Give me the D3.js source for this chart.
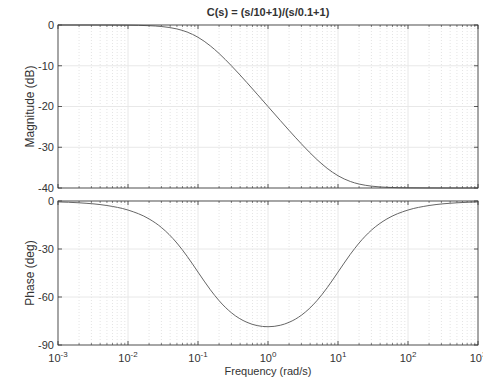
<!DOCTYPE html>
<html>
<head>
<meta charset="utf-8">
<script src="https://cdn.jsdelivr.net/npm/d3@7"></script>
<style>
  body { margin: 0; background: #fff; }
  text { font-family: "Liberation Sans", Arial, sans-serif; fill: #333; }
</style>
</head>
<body>
<svg id="bode"></svg>
<script>
// Values
const freq = [0.001, 0.002, 0.005, 0.01, 0.02, 0.03, 0.05, 0.07, 0.1, 0.15, 0.2, 0.3, 0.5, 0.7,
  1, 1.5, 2, 3, 5, 7, 10, 15, 20, 30, 50, 100, 200, 500, 1000];
const magDb = [0, -0.002, -0.01, -0.04, -0.17, -0.37, -0.97, -1.73, -3.01, -5.12, -6.99, -10.0, -14.14, -16.97,
  -20.0, -23.44, -25.86, -29.17, -33.01, -35.17, -36.99, -38.4, -39.03, -39.54, -39.83, -39.96, -39.99, -40.0, -40.0];
const phaseDeg = [-0.57, -1.13, -2.83, -5.65, -11.2, -16.53, -26.28, -34.59, -44.43, -55.45, -62.29, -69.85, -75.83, -77.87,
  -78.58, -77.66, -75.83, -71.39, -62.29, -54.19, -44.43, -33.31, -26.28, -18.24, -11.2, -5.65, -2.83, -1.13, -0.57];
const decades = [0.001, 0.01, 0.1, 1, 10, 100, 1000];
const magTicks = [0, -10, -20, -30, -40];
const phaseTicks = [0, -30, -60, -90];

const W = 483, H = 378;
const left = 58, right = 478;
const svg = d3.select("#bode").attr("width", W).attr("height", H);

const x = d3.scaleLog([0.001, 1000], [left, right]);

// minor frequencies 2..9 in each decade
const minor = [];
decades.slice(0, -1).forEach(d => { for (let k = 2; k <= 9; k++) minor.push(d * k); });

function panel(top, bottom, domain, ticks, data, ylabel) {
  const y = d3.scaleLinear(domain, [bottom, top]);
  const g = svg.append("g");

  // grid
  g.selectAll(".mg").data(minor).join("line")
    .attr("x1", d => x(d)).attr("x2", d => x(d))
    .attr("y1", top).attr("y2", bottom)
    .attr("stroke", "#e4e4e4").attr("stroke-dasharray", "1,2");
  g.selectAll(".vg").data(decades).join("line")
    .attr("x1", d => x(d)).attr("x2", d => x(d))
    .attr("y1", top).attr("y2", bottom)
    .attr("stroke", "#e8e8e8");
  g.selectAll(".hg").data(ticks).join("line")
    .attr("x1", left).attr("x2", right)
    .attr("y1", d => y(d)).attr("y2", d => y(d))
    .attr("stroke", "#e8e8e8");

  // ticks on all four sides, pointing inward
  [top, bottom].forEach(yy => {
    const s = yy === top ? 1 : -1;
    g.selectAll(null).data(decades).join("line")
      .attr("x1", d => x(d)).attr("x2", d => x(d))
      .attr("y1", yy).attr("y2", yy + s * 4)
      .attr("stroke", "#333").attr("stroke-width", 0.8);
    g.selectAll(null).data(minor).join("line")
      .attr("x1", d => x(d)).attr("x2", d => x(d))
      .attr("y1", yy).attr("y2", yy + s * 2)
      .attr("stroke", "#333").attr("stroke-width", 0.6);
  });
  [left, right].forEach(xx => {
    const s = xx === left ? 1 : -1;
    g.selectAll(null).data(ticks).join("line")
      .attr("x1", xx).attr("x2", xx + s * 4)
      .attr("y1", d => y(d)).attr("y2", d => y(d))
      .attr("stroke", "#333").attr("stroke-width", 0.8);
  });

  // curve
  const line = d3.line()
    .x((d, i) => x(freq[i]))
    .y(d => y(d))
    .curve(d3.curveMonotoneX);
  g.append("path").datum(data)
    .attr("fill", "none").attr("stroke", "#666").attr("stroke-width", 1)
    .attr("d", line);

  // box
  g.append("rect")
    .attr("x", left).attr("y", top)
    .attr("width", right - left).attr("height", bottom - top)
    .attr("fill", "none").attr("stroke", "#333").attr("stroke-width", 0.8);

  // y tick labels
  g.selectAll(null).data(ticks).join("text")
    .attr("x", left - 4).attr("y", d => y(d)).attr("dy", "0.35em")
    .attr("text-anchor", "end").attr("font-size", 11)
    .text(d => d);

  // y label
  svg.append("text")
    .attr("transform", `translate(34,${(top + bottom) / 2}) rotate(-90)`)
    .attr("text-anchor", "middle").attr("font-size", 12)
    .text(ylabel);
  return y;
}

panel(25, 188, [-40, 0], magTicks, magDb, "Magnitude (dB)");
panel(201, 345, [-90, 0], phaseTicks, phaseDeg, "Phase (deg)");

// x tick labels with superscripts
const xl = svg.selectAll(".xl").data(decades).join("text")
  .attr("x", d => x(d)).attr("y", 362)
  .attr("text-anchor", "middle").attr("font-size", 11);
xl.append("tspan").text("10");
xl.append("tspan").attr("dy", -5).attr("font-size", 8)
  .text(d => Math.round(Math.log10(d)));

svg.append("text")
  .attr("x", (left + right) / 2).attr("y", 375)
  .attr("text-anchor", "middle").attr("font-size", 11)
  .text("Frequency  (rad/s)");

svg.append("text")
  .attr("x", (left + right) / 2).attr("y", 16)
  .attr("text-anchor", "middle").attr("font-size", 11).attr("font-weight", "bold")
  .text("C(s) = (s/10+1)/(s/0.1+1)");
</script>
</body>
</html>
